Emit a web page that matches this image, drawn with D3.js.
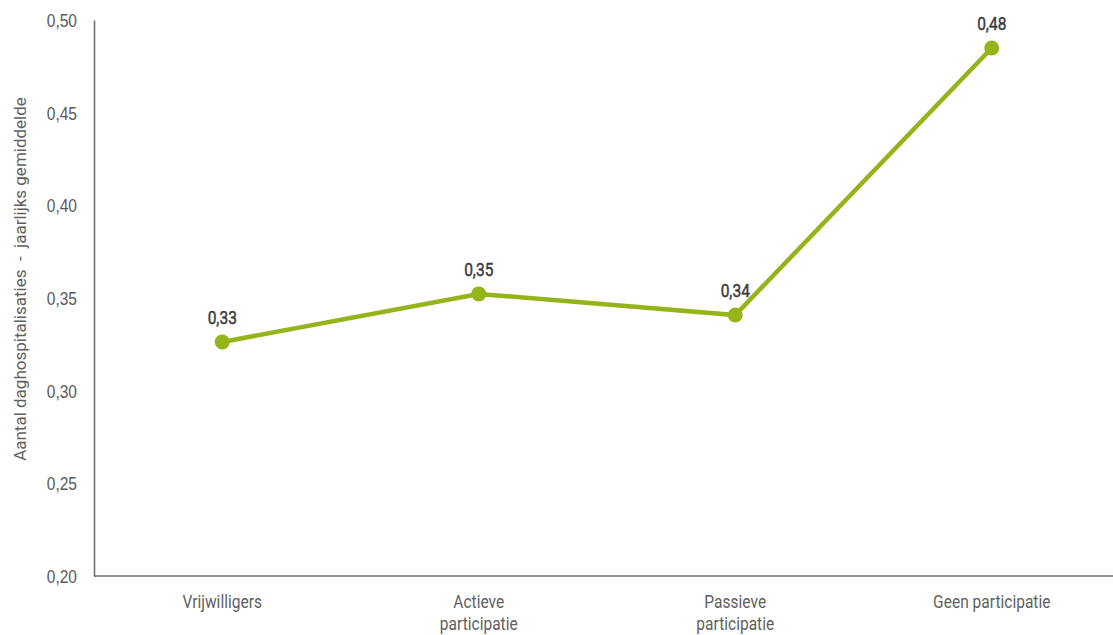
<!DOCTYPE html>
<html>
<head>
<meta charset="utf-8">
<script src="https://cdn.jsdelivr.net/npm/d3@7"></script>
<style>
  body { margin: 0; background: #fff; }
  svg { display: block; font-family: "Roboto", "Liberation Sans", sans-serif; }
</style>
</head>
<body>
<svg id="chart" width="1113" height="635"></svg>
<script>
// Gemiddeld aantal daghospitalisaties per jaar, per participatiegroep
const categories = [["Vrijwilligers"], ["Actieve", "participatie"], ["Passieve", "participatie"], ["Geen participatie"]];
const values = [0.3263, 0.3522, 0.3408, 0.4849];
const yTicks = [0.20, 0.25, 0.30, 0.35, 0.40, 0.45, 0.50];
const yTitle = "Aantal daghospitalisaties  -  jaarlijks gemiddelde";

const svg = d3.select("#chart");
const W = 1113;
const mLeft = 94, mTop = 20, mBottom = 576;
const SX = 0.84;          // horizontal squeeze for the condensed labels
const FS = "18.5px";

const x = d3.scaleBand().domain(d3.range(categories.length)).range([mLeft, 1120]);
const y = d3.scaleLinear().domain([0.20, 0.50]).range([mBottom, mTop]);
const cx = i => x(i) + x.bandwidth() / 2;

const fmt = v => d3.format(".2f")(v).replace(".", ",");
const green = "#95b41a";
const axisCol = "#6b6b6b";

// condensed text helper: positioned group, squeezed text inside
function cText(parent, px, py) {
  return parent.append("g").attr("transform", `translate(${px},${py})`)
    .append("text").attr("transform", `scale(${SX},1)`)
    .attr("text-anchor", "middle").style("font-size", FS);
}

// Y axis
const yAxis = svg.append("g").attr("transform", `translate(${mLeft},0)`)
  .call(d3.axisLeft(y).tickValues(yTicks).tickSize(0).tickPadding(17).tickFormat(fmt));
yAxis.select(".domain").attr("stroke", axisCol).attr("stroke-width", 1.5);
yAxis.selectAll("text").attr("fill", "#5a5a5a").style("font-size", FS)
  .style("font-family", "inherit")
  .attr("transform", `scale(${SX},1)`).attr("x", -17 / SX).attr("dy", "0.36em");

// X axis
svg.append("line").attr("x1", mLeft).attr("x2", W).attr("y1", mBottom).attr("y2", mBottom)
  .attr("stroke", axisCol).attr("stroke-width", 1.5);

const xl = svg.append("g");
categories.forEach((lines, i) => {
  const t = cText(xl, cx(i), 608).attr("fill", "#5f5f5f");
  lines.forEach((s, j) => t.append("tspan").attr("x", 0)
    .attr("dy", j === 0 ? 0 : 22).text(s));
});

// Y axis title
svg.append("text").attr("transform", `translate(26,${(mTop + mBottom) / 2 - 19}) rotate(-90)`)
  .attr("text-anchor", "middle").attr("fill", "#5f5f5f").style("font-size", "17px")
  .style("white-space", "pre").text(yTitle);

// Line and points
svg.append("path").datum(values)
  .attr("d", d3.line().x((d, i) => cx(i)).y(d => y(d)))
  .attr("fill", "none").attr("stroke", green).attr("stroke-width", 4.5);

svg.selectAll("circle.pt").data(values).join("circle")
  .attr("cx", (d, i) => cx(i)).attr("cy", d => y(d)).attr("r", 7.5).attr("fill", green);

// Value labels (medium weight: regular glyphs with a thin outline)
const vl = svg.append("g");
values.forEach((v, i) => {
  cText(vl, cx(i), y(v) - 18).attr("fill", "#3a3a3a")
    .attr("stroke", "#3a3a3a").attr("stroke-width", 0.45).text(fmt(v));
});
</script>
</body>
</html>
